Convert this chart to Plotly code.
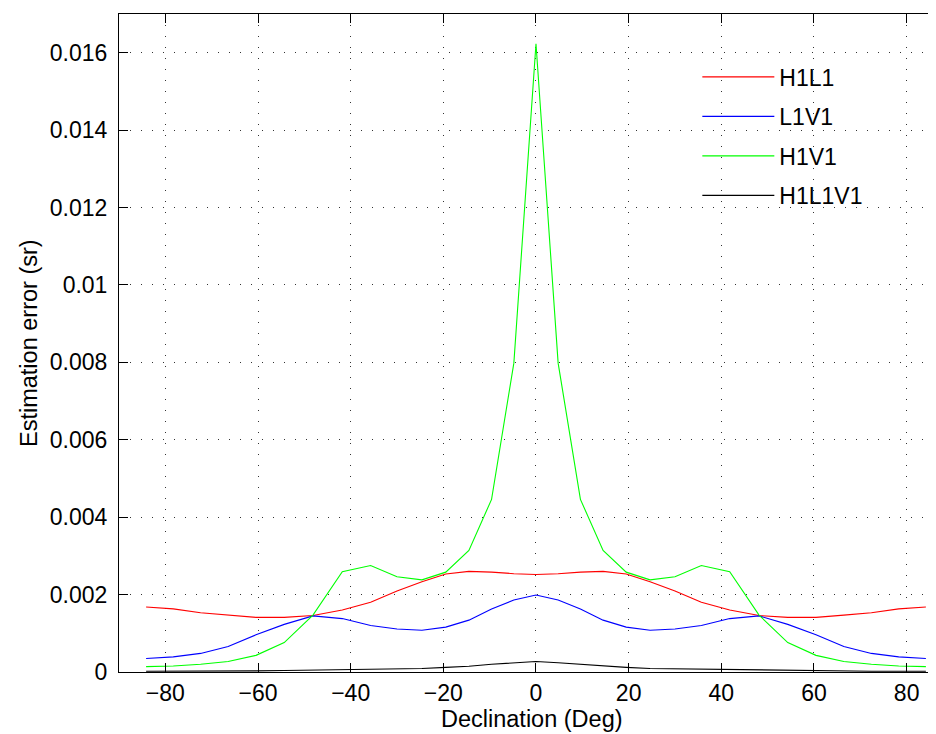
import plotly.graph_objects as go

# Declination sample points (deg)
declination = [-84.15, -78.28, -72.39, -66.44, -60.43, -54.34, -48.14, -41.81, -35.69, -30.0,
               -24.62, -19.47, -14.48, -9.59, -4.78, 0.0, 4.78, 9.59, 14.48, 19.47, 24.62,
               30.0, 35.69, 41.81, 48.14, 54.34, 60.43, 66.44, 72.39, 78.28, 84.15]

h1l1 = [0.00168, 0.00163, 0.00153, 0.00147, 0.00141, 0.00141, 0.00146, 0.00160, 0.00180, 0.00209,
        0.00233, 0.00253, 0.00260, 0.00258, 0.00254, 0.00252, 0.00254, 0.00258, 0.00260, 0.00253,
        0.00233, 0.00209, 0.00180, 0.00160, 0.00146, 0.00141, 0.00141, 0.00147, 0.00153, 0.00163, 0.00168]

l1v1 = [0.00035, 0.00039, 0.00048, 0.00066, 0.00096, 0.00123, 0.00145, 0.00138, 0.00120, 0.00111,
        0.00108, 0.00116, 0.00134, 0.00163, 0.00186, 0.00199, 0.00186, 0.00163, 0.00134, 0.00116,
        0.00108, 0.00111, 0.00120, 0.00138, 0.00145, 0.00123, 0.00096, 0.00066, 0.00048, 0.00039, 0.00035]

h1v1 = [0.00014, 0.000155, 0.00020, 0.00027, 0.00043, 0.00076, 0.00147, 0.00259, 0.00275, 0.00246,
        0.00238, 0.00258, 0.00314, 0.00446, 0.00798, 0.01623, 0.00798, 0.00446, 0.00314, 0.00258,
        0.00238, 0.00246, 0.00275, 0.00259, 0.00147, 0.00076, 0.00043, 0.00027, 0.00020, 0.000155, 0.00014]

h1l1v1 = [0.00002, 0.00002, 0.00002, 0.00003, 0.00003, 0.00004, 0.00005, 0.00006, 0.00007, 0.00008,
          0.00009, 0.00012, 0.00015, 0.00020, 0.00024, 0.00027, 0.00024, 0.00020, 0.00015, 0.00012,
          0.00009, 0.00008, 0.00007, 0.00006, 0.00005, 0.00004, 0.00003, 0.00003, 0.00002, 0.00002, 0.00002]

series_names = ["H1L1", "L1V1", "H1V1", "H1L1V1"]
series_values = [h1l1, l1v1, h1v1, h1l1v1]
series_colors = ["#ff0000", "#0000ff", "#00ff00", "#000000"]

x_ticks = [-80, -60, -40, -20, 0, 20, 40, 60, 80]
y_ticks = [0, 0.002, 0.004, 0.006, 0.008, 0.01, 0.012, 0.014, 0.016]
y_tick_labels = ["0", "0.002", "0.004", "0.006", "0.008", "0.01", "0.012", "0.014", "0.016"]

x_title = "Declination (Deg)"
y_title = "Estimation error (sr)"

FONT = "Liberation Sans, Arial, sans-serif"
FS = 23

fig = go.Figure()
for name, vals, col in zip(series_names, series_values, series_colors):
    fig.add_trace(go.Scatter(x=declination, y=vals, mode="lines", name=name,
                             legendgroup=name,
                             line=dict(color=col, width=1.1)))

grid_dash = "1px,10px"
fig.update_layout(
    width=936, height=734,
    margin=dict(l=111, r=0, t=6, b=70),
    paper_bgcolor="white", plot_bgcolor="white",
    font=dict(family=FONT, size=FS, color="black"),
    showlegend=True,
    legend=dict(x=0.701, y=0.937, xanchor="left", yanchor="top",
                bgcolor="rgba(255,255,255,0)", borderwidth=0,
                font=dict(family=FONT, size=FS), tracegroupgap=6.6, itemwidth=72),
    xaxis=dict(range=[-90, 88.06], tickvals=x_ticks, ticks="inside", ticklen=9,
               tickcolor="black", showline=True, linecolor="black", linewidth=1,
               mirror="ticks", showgrid=True, gridcolor="#333", griddash=grid_dash,
               gridwidth=1, zeroline=False, tickfont=dict(family=FONT, size=FS)),
    yaxis=dict(range=[0, 0.017], tickvals=y_ticks, ticktext=y_tick_labels,
               ticks="inside", ticklen=9, tickcolor="black",
               showline=True, linecolor="black", linewidth=1, mirror=False,
               showgrid=True, gridcolor="#333", griddash=grid_dash, gridwidth=1,
               zeroline=False, ticklabelstandoff=6, tickfont=dict(family=FONT, size=FS)),
    annotations=[
        dict(text=x_title, x=0.5, y=0, xref="paper", yref="paper",
             xanchor="center", yanchor="middle", yshift=-47, showarrow=False,
             font=dict(family=FONT, size=23.5, color="black")),
        dict(text=y_title, x=0, y=0.5, xref="paper", yref="paper",
             xanchor="center", yanchor="middle", xshift=-90, textangle=-90,
             showarrow=False, font=dict(family=FONT, size=23.5, color="black")),
    ],
)

fig.write_html("out.html")
